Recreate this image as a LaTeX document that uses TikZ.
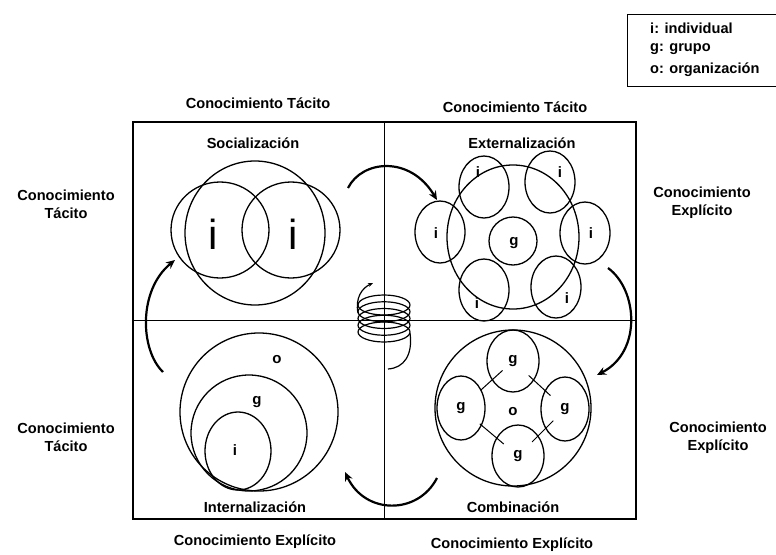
\documentclass[tikz,border=0pt]{standalone}
\usepackage{fontspec}
\setmainfont{Liberation Sans}
\usetikzlibrary{arrows.meta,shapes.geometric,calc}
\begin{document}
\begin{tikzpicture}[x=1pt,y=-1pt,
  lbl/.style={font=\bfseries\fontsize{14.6}{18}\selectfont, align=center, inner sep=0},
  bigi/.style={font=\fontsize{42}{42}\selectfont, inner sep=0},
  sm/.style={font=\fontsize{15}{15}\selectfont\bfseries, inner sep=0},
  ring/.style={draw, ellipse, line width=1.3pt, inner sep=0},
  flow/.style={line width=2.2pt, -{Stealth[length=9pt,width=8pt]}},
  frame/.style={line width=1.4pt}]
\useasboundingbox (0,0) rectangle (776,554);
\fill[white] (0,0) rectangle (776,554);
% legend
\node[draw, frame, minimum width=180pt, minimum height=72pt, anchor=north west, inner sep=0] (leg) at (627,14) {};
\node[lbl, anchor=west] (li) at (650,28) {i: individual};
\node[lbl, anchor=west] (lg) at (650,49) {g: grupo};
\node[lbl, anchor=west] (lo) at (650,70) {o: organización};
% frame
\node[draw, frame, minimum width=503pt, minimum height=397pt, inner sep=0] (sq) at (384.5,320.5) {};
\draw[frame] (sq.north) -- (sq.south);
\draw[frame] (sq.west) -- (sq.east);
% outer labels
\node[lbl] (tl) at (258,103) {Conocimiento Tácito};
\node[lbl] (tr) at (515,107) {Conocimiento Tácito};
\node[lbl] (bl) at (255,542) {Conocimiento Explícito};
\node[lbl] (br) at (512,545) {Conocimiento Explícito};
\node[lbl] (lt) at (66,204) {Conocimiento\\Tácito};
\node[lbl] (lb) at (66,437) {Conocimiento\\Tácito};
\node[lbl] (rt) at (702,203) {Conocimiento\\Explícito};
\node[lbl] (rb) at (718,438) {Conocimiento\\Explícito};
% quadrant titles
\node[lbl] (ts) at (253,143) {Socialización};
\node[lbl] (te) at (522,143) {Externalización};
\node[lbl] (ti) at (255,507) {Internalización};
\node[lbl] (tc) at (513,507) {Combinación};
% Socializacion
\node[ring, minimum width=140pt, minimum height=144pt] (sbig) at (255,233) {};
\node[ring, minimum width=98pt, minimum height=96pt] (sl) at (220,230) {};
\node[ring, minimum width=98pt, minimum height=96pt] (sr) at (291,230) {};
\node[bigi] (si1) at (213,234) {i};
\node[bigi] (si2) at (293,234) {i};
% Externalizacion
\node[ring, minimum width=132pt, minimum height=144pt] (ebig) at (513,237) {};
\node[ring, minimum width=50pt, minimum height=62pt] (e1) at (484,187) {};
\node[ring, minimum width=50pt, minimum height=62pt] (e2) at (550,182) {};
\node[ring, minimum width=50pt, minimum height=62pt] (e3) at (440,232) {};
\node[ring, minimum width=50pt, minimum height=62pt] (e4) at (585,233) {};
\node[ring, minimum width=50pt, minimum height=62pt] (e5) at (484,290) {};
\node[ring, minimum width=50pt, minimum height=62pt] (e6) at (556,287) {};
\node[ring, minimum width=48pt, minimum height=48pt] (eg) at (513,241) {};
\node[sm] (ei1) at (478,172) {i};
\node[sm] (ei2) at (560,172) {i};
\node[sm] (ei3) at (436,233) {i};
\node[sm] (ei4) at (591,233) {i};
\node[sm] (ei5) at (477,303) {i};
\node[sm] (ei6) at (567,298) {i};
\node[sm] (egl) at (514,243) {g};
% Internalizacion
\node[ring, minimum width=158pt, minimum height=158pt] (io) at (259,412) {};
\node[ring, minimum width=116pt, minimum height=116pt] (ig) at (249,433) {};
\node[ring, minimum width=66pt, minimum height=78pt] (ii) at (238,451) {};
\node[sm] (iol) at (277,360) {o};
\node[sm] (igl) at (257,402) {g};
\node[sm] (iil) at (235,450) {i};
% Combinacion
\node[ring, minimum width=156pt, minimum height=156pt] (co) at (513,408) {};
\node[ring, sm, minimum width=52pt, minimum height=62pt] (tg) at (513,361) {g};
\node[ring, sm, minimum width=48pt, minimum height=64pt] (lgc) at (461,408) {g};
\node[ring, sm, minimum width=48pt, minimum height=64pt] (rg) at (565,409) {g};
\node[ring, sm, minimum width=52pt, minimum height=62pt] (bg) at (518,456) {g};
\node[sm] (col) at (513,412) {o};
\draw[line width=1pt] ($(tg)!0.2!(lgc)$) -- ($(tg)!0.62!(lgc)$);
\draw[line width=1pt] ($(tg)!0.3!(rg)$) -- ($(tg)!0.72!(rg)$);
\draw[line width=1pt] ($(lgc)!0.33!(bg)$) -- ($(lgc)!0.75!(bg)$);
\draw[line width=1pt] ($(rg)!0.25!(bg)$) -- ($(rg)!0.7!(bg)$);
% cycle arrows
\coordinate (a1s) at (348,188); \coordinate (a1e) at (437,200);
\coordinate (a2s) at (608,268); \coordinate (a2e) at (597,375);
\coordinate (a3s) at (437,478); \coordinate (a3e) at (345,472);
\coordinate (a4s) at (163,372); \coordinate (a4e) at (175,260);
\draw[flow] (a1s) .. controls (362,160) and (410,155) .. (a1e);
\draw[flow] (a2s) .. controls (638,290) and (642,352) .. (a2e);
\draw[flow] (a3s) .. controls (418,515) and (365,515) .. (a3e);
\draw[flow] (a4s) .. controls (140,350) and (138,290) .. (a4e);
% spring
\foreach \yy in {305,311.75,318.5,325.25,332}
  \draw[line width=1.2pt] (384,\yy) ellipse [x radius=26, y radius=10];
\coordinate (sp1) at (358,313); \coordinate (sp2) at (373,283);
\coordinate (sp3) at (410,333); \coordinate (sp4) at (388,369);
\draw[line width=1.2pt, -{Stealth[length=5pt,width=4pt]}] (sp1) .. controls (355,298) and (362,288) .. (sp2);
\draw[line width=1.2pt] (sp3) .. controls (413,355) and (404,368) .. (sp4);
\end{tikzpicture}
\end{document}
